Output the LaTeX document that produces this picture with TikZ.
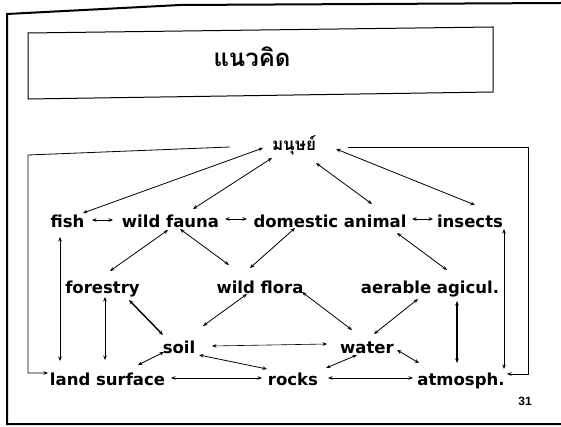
\documentclass[tikz,border=0pt]{standalone}
\usepackage{fontspec}
\setmainfont{DejaVu Sans}
\newfontfamily\thaifont[Script=Thai]{Loma}
\newfontfamily\numfont{Liberation Sans}
\usetikzlibrary{calc,arrows.meta}
\begin{document}
\begin{tikzpicture}[x=1pt,y=-1pt,
  >={Stealth[length=4.5pt,width=3.6pt]},
  lbl/.style={font=\bfseries\fontsize{16.5}{18}\selectfont, inner sep=0pt, anchor=base},
  thai/.style={font=\thaifont\bfseries\fontsize{#1}{#1}\selectfont, inner sep=0pt, anchor=base},
  con/.style={<->, line width=0.8pt},
  conb/.style={<->, line width=1.4pt},
  loopline/.style={line width=0.8pt},
  frame/.style={line width=2pt},
  tbox/.style={line width=1pt}]
\useasboundingbox (0,0) rectangle (561,427);
% outer frame
\draw[frame] (561,3) -- (180,5) -- (7,14) -- (7,424) -- (561,424);
% title box
\draw[tbox] (28,33) -- (493,27) -- (493,92) -- (28,99) -- cycle;
\node[thai=24] (title) at (252,67) {แนวคิด};
% nodes
\node[thai=17] (mn) at (294,151) {มนุษย์};
\node[lbl] (fish) at (67.5,228) {fish};
\node[lbl] (fauna) at (170.5,228) {wild fauna};
\node[lbl] (dom) at (330,228) {domestic animal};
\node[lbl] (ins) at (470,228) {insects};
\node[lbl] (forest) at (102.5,293) {forestry};
\node[lbl] (flora) at (260,293) {wild flora};
\node[lbl] (aer) at (430,293) {aerable agicul.};
\node[lbl] (soil) at (179,353) {soil};
\node[lbl] (water) at (367,353) {water};
\node[lbl] (land) at (107.5,385) {land surface};
\node[lbl] (rocks) at (293,385) {rocks};
\node[lbl] (atm) at (461,385) {atmosph.};
\node[font=\numfont\bfseries\fontsize{12}{12}\selectfont, inner sep=0pt, anchor=base] (pg) at (525,405) {31};
% loop corners
\coordinate (l1) at (28,155);
\coordinate (l2) at (28,373);
\coordinate (r1) at (528,147);
\coordinate (r2) at (528,374);
% loops
\draw[loopline,->] ($(mn.base)+(-64,-4)$) -- (l1) -- (l2) -- ($(land.base)+(-59.5,-12)$);
\draw[loopline,->] ($(mn.base)+(54,-4)$) -- (r1) -- (r2) -- ($(atm.base)+(46,-11)$);
% connectors
\draw[con] ($(mn.base)+(-31,-3)$) -- ($(fish.base)+(15.5,-15)$);
\draw[con] ($(mn.base)+(-22,7)$) -- ($(fauna.base)+(22.5,-19)$);
\draw[con] ($(mn.base)+(22,12)$) -- ($(dom.base)+(42,-24)$);
\draw[con] ($(mn.base)+(42,-2)$) -- ($(ins.base)+(5,-23)$);
\draw[con] ($(fish.base)+(24.5,-8)$) -- ($(fauna.base)+(-57.5,-8)$);
\draw[con] ($(fauna.base)+(54.5,-9)$) -- ($(dom.base)+(-83,-9)$);
\draw[con] ($(dom.base)+(82,-9)$) -- ($(ins.base)+(-37,-9)$);
\draw[con] ($(fauna.base)+(-2.5,2)$) -- ($(forest.base)+(7.5,-22)$);
\draw[con] ($(fauna.base)+(9.5,1)$) -- ($(flora.base)+(-31,-28)$);
\draw[con] ($(dom.base)+(-35,0)$) -- ($(flora.base)+(-10,-25)$);
\draw[con] ($(dom.base)+(67,5)$) -- ($(aer.base)+(17,-23)$);
\draw[con] ($(ins.base)+(34,1)$) -- ($(atm.base)+(43,-16)$);
\draw[con] ($(fish.base)+(-7.5,9)$) -- ($(land.base)+(-47.5,-24)$);
\draw[con] ($(forest.base)+(2.5,4)$) -- ($(land.base)+(-2.5,-25)$);
\draw[conb] ($(forest.base)+(26.5,7)$) -- ($(soil.base)+(-16,-18)$);
\draw[con] ($(flora.base)+(-13,1)$) -- ($(soil.base)+(24,-27)$);
\draw[con,line width=0.6pt] ($(soil.base)+(33,-7)$) -- ($(water.base)+(-40,-9)$);
\draw[con] ($(soil.base)+(-15,-1)$) -- ($(land.base)+(30.5,-20)$);
\draw[con] ($(soil.base)+(20,2)$) -- ($(rocks.base)+(-26,-16)$);
\draw[con] ($(land.base)+(63.5,-7)$) -- ($(rocks.base)+(-31,-7)$);
\draw[con] ($(rocks.base)+(35,-7)$) -- ($(atm.base)+(-48,-7)$);
\draw[con] ($(flora.base)+(42,-1)$) -- ($(water.base)+(-15,-23)$);
\draw[con] ($(aer.base)+(-12,6)$) -- ($(water.base)+(7,-19)$);
\draw[conb] ($(aer.base)+(27,8)$) -- ($(atm.base)+(-4,-22)$);
\draw[con] ($(water.base)+(-10,2)$) -- ($(rocks.base)+(33,-17)$);
\draw[con] ($(water.base)+(30,-3)$) -- ($(atm.base)+(-42,-22)$);
\end{tikzpicture}
\end{document}
